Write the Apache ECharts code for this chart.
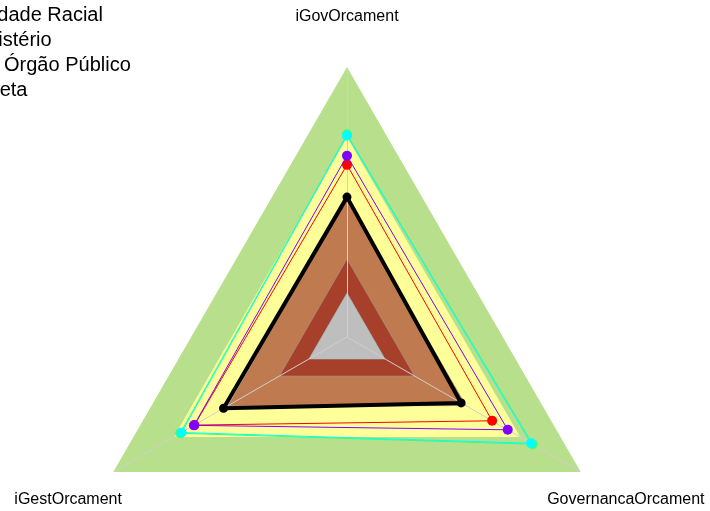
<!DOCTYPE html>
<html>
<head>
<meta charset="utf-8">
<script src="https://cdn.jsdelivr.net/npm/echarts@6/dist/echarts.min.js"></script>
<style>
  html, body { margin: 0; padding: 0; background: #fff; }
  #radar_chart { width: 710px; height: 511px; }
</style>
</head>
<body>
<div id="radar_chart"></div>
<script>
// eixos do radar (ordem anti-horaria a partir do topo)
var indicadores = ['iGovOrcament', 'iGestOrcament', 'GovernancaOrcament'];
var nomes = ['Ministério da Igualdade Racial', 'Média Ministério', 'Média Órgão Público', 'Meta'];

// valores
var orgao = [0.52, 0.53, 0.49];
var ministerio = [0.64, 0.655, 0.623];
var orgaoPublico = [0.674, 0.657, 0.69];
var meta = [0.749, 0.71, 0.79];
var metaBorda = [0.753, 0.716, 0.797];

// faixas de fundo
var faixas = [1.0, 0.74, 0.51, 0.288, 0.163];
var faixaCores = ['#b8e08c', '#ffff99', '#c07a4f', '#a6402b', '#bebebe'];

var centro = [347, 337];
var raio = 269;
var fonte = 'Liberation Sans, Arial, sans-serif';

var myChart = echarts.init(document.getElementById('radar_chart'));

// rotulos dos eixos, centrados alem do vertice
var rotulos = indicadores.map(function (nome, i) {
  var ang = (90 + i * 120) * Math.PI / 180;
  var r = raio + 53;
  return {
    type: 'text',
    x: centro[0] + r * Math.cos(ang),
    y: centro[1] - r * Math.sin(ang) + 2,
    style: {
      text: nome, fontSize: 16, fontFamily: fonte, fill: '#000',
      align: 'center', verticalAlign: 'middle'
    }
  };
});

// legenda cortada na margem esquerda
var legLeft = [-195, -124, -86, -47];
var legTop = [5, 30, 55.5, 80.5];
var legendas = nomes.map(function (n, i) {
  return {
    data: [n], orient: 'vertical', left: legLeft[i], top: legTop[i], padding: 0,
    itemWidth: 25, itemHeight: 14, selectedMode: false,
    textStyle: { fontSize: 20, color: '#000', fontFamily: fonte }
  };
});

function serie(nome, valores, cor, largura, tam, z) {
  return {
    type: 'radar', name: nome, z: z, symbol: 'circle', symbolSize: tam,
    lineStyle: { color: cor, width: largura },
    itemStyle: { color: cor },
    data: [{ name: nome, value: valores }]
  };
}

var option = {
  animation: false,
  backgroundColor: '#fff',
  legend: legendas,
  graphic: rotulos,
  radar: {
    z: 3,
    center: centro,
    radius: raio,
    shape: 'polygon',
    splitNumber: 1,
    indicator: indicadores.map(function (n) { return { name: n, min: 0, max: 1 }; }),
    axisName: { show: false },
    axisLine: { lineStyle: { color: '#cfcfcf', width: 1 } },
    splitLine: { show: false },
    splitArea: { show: false }
  },
  series: [
    {
      type: 'radar', name: 'faixas', z: 2, silent: true, symbol: 'none',
      data: faixas.map(function (v, i) {
        return {
          name: 'faixa' + i,
          value: [v, v, v],
          areaStyle: { color: faixaCores[i], opacity: 1 },
          lineStyle: { color: i >= 2 ? '#9a9a9a' : faixaCores[i], width: 1 }
        };
      })
    },
    serie('borda', metaBorda, '#3dff6a', 1, 10, 4),
    serie(nomes[3], meta, '#00ffff', 1, 10, 5),
    serie(nomes[1], ministerio, '#ff0000', 1, 10, 6),
    serie(nomes[2], orgaoPublico, '#7f00ff', 1, 10, 7),
    serie(nomes[0], orgao, '#000000', 4, 9, 8)
  ]
};

myChart.setOption(option);
</script>
</body>
</html>
